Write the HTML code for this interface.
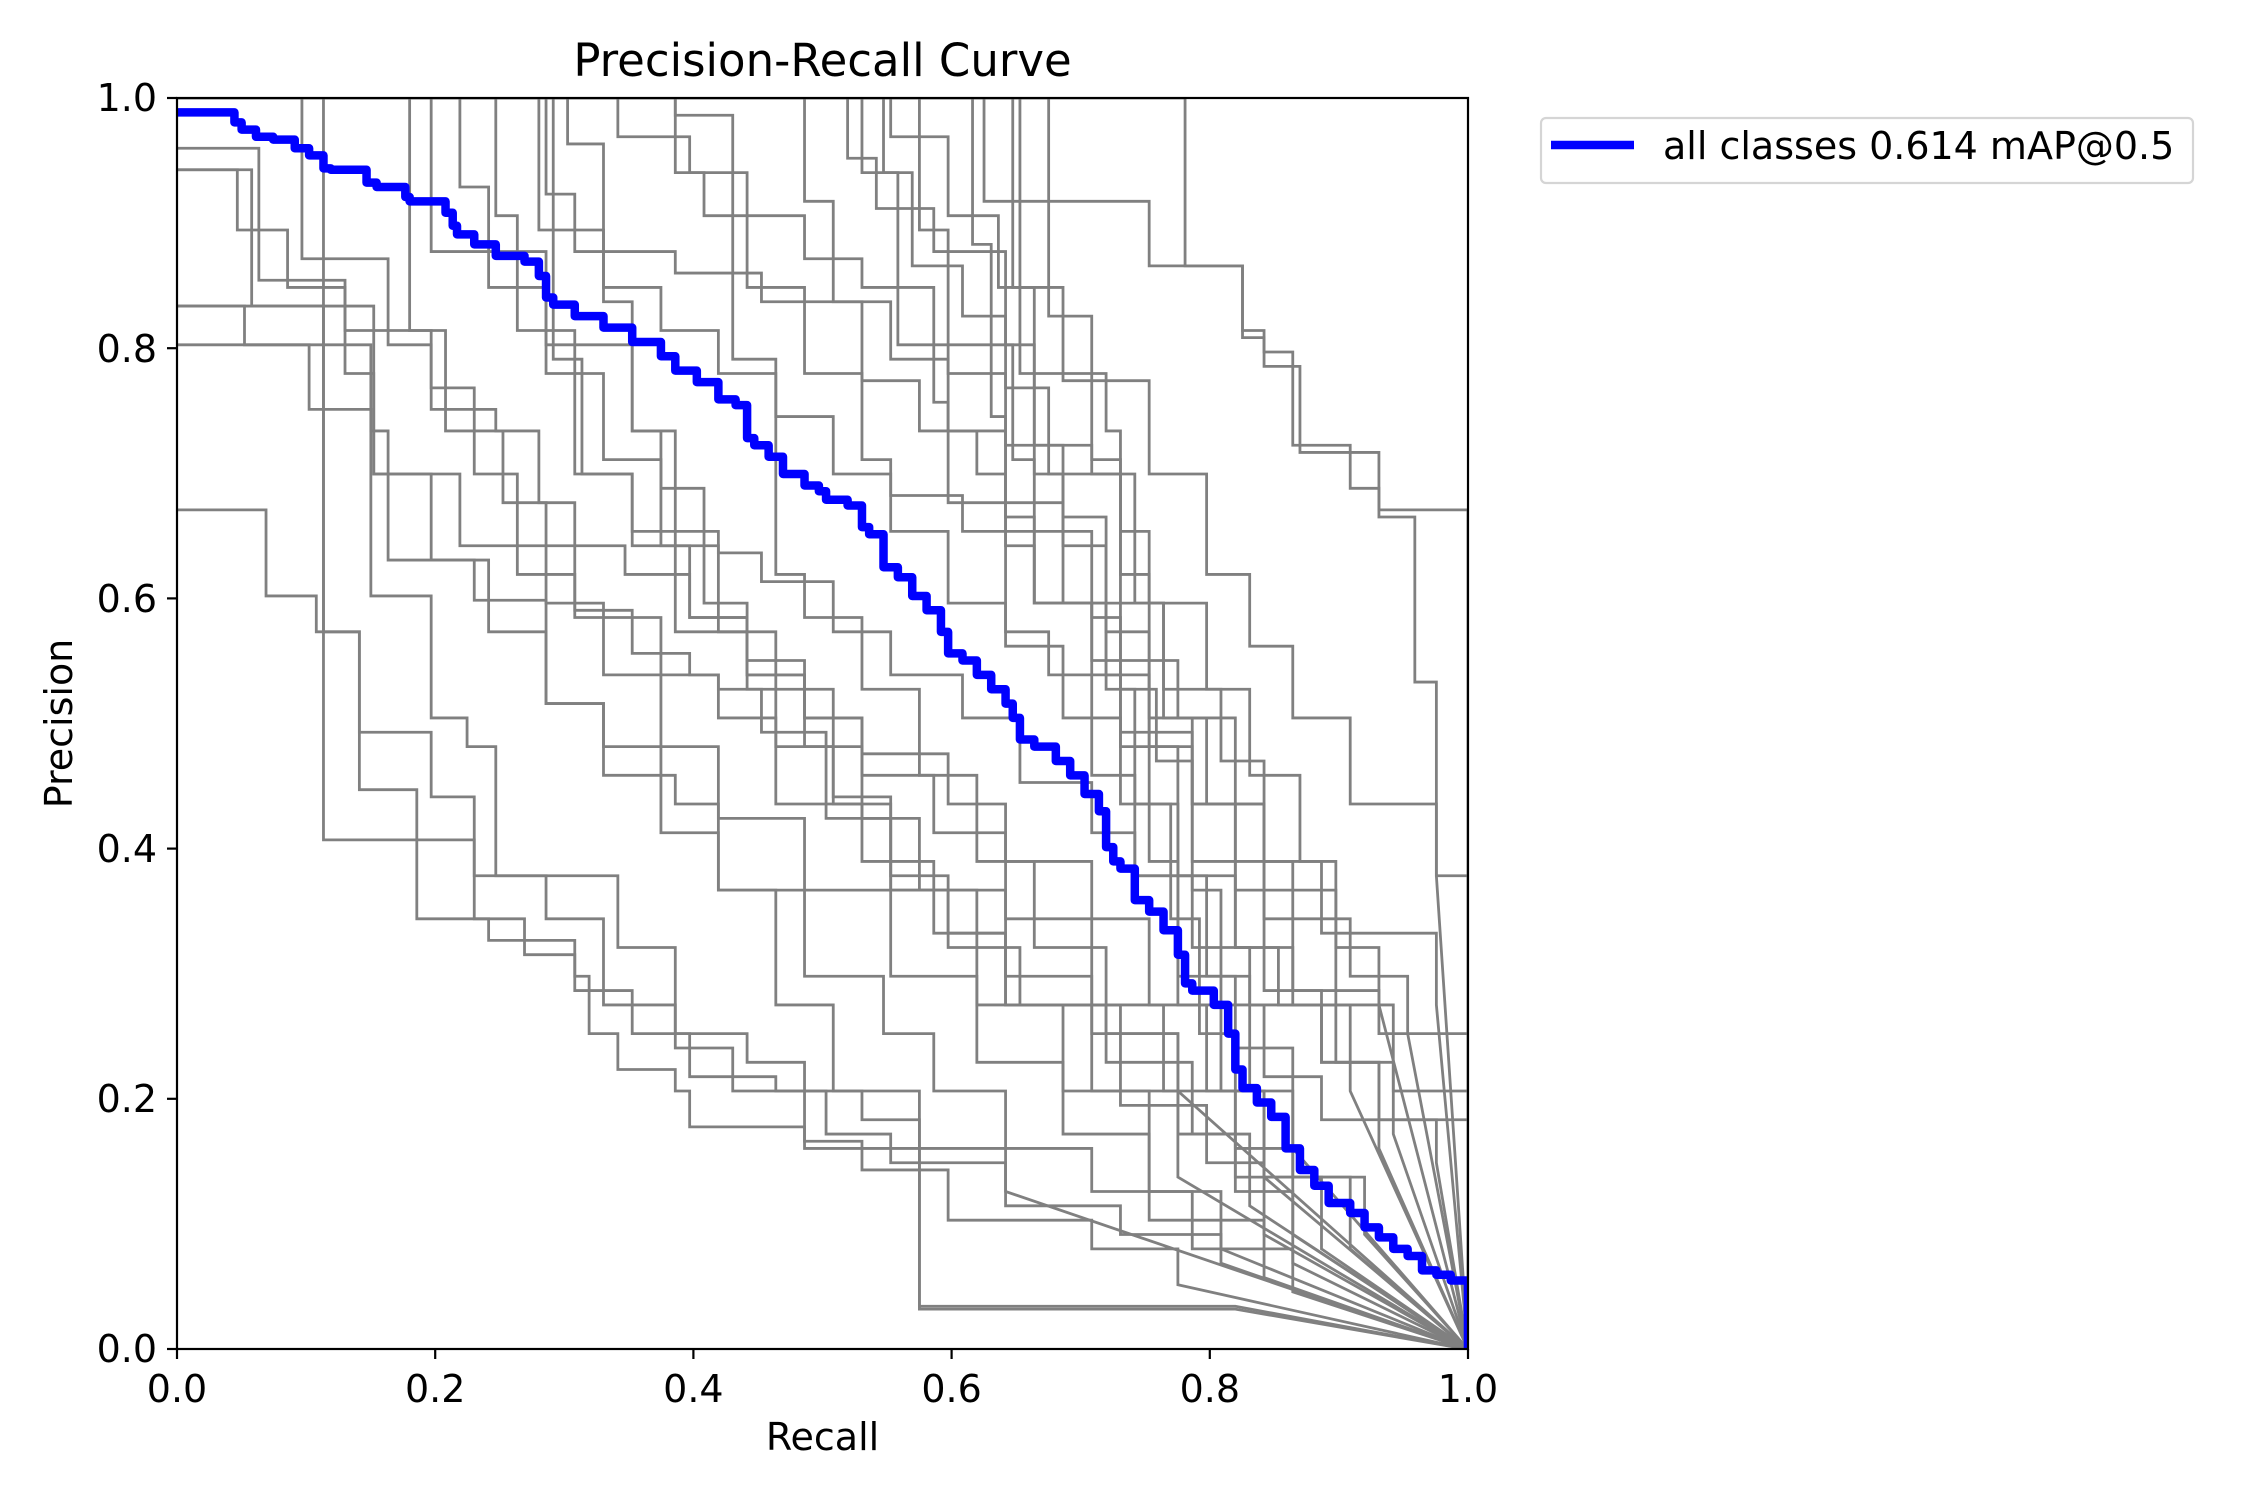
<!DOCTYPE html>
<html><head><meta charset="utf-8"><style>
html,body{margin:0;padding:0;background:#fff;}
svg{display:block;font-family:"DejaVu Sans","Liberation Sans",sans-serif;}
</style></head><body>
<svg width="2250" height="1500" viewBox="0 0 2250 1500" xmlns="http://www.w3.org/2000/svg">
<rect width="2250" height="1500" fill="#fff"/>
<defs><clipPath id="cp"><rect x="177" y="98" width="1291" height="1251"/></clipPath></defs>
<g clip-path="url(#cp)">
<g transform="translate(177 98) scale(1.436 1.435) translate(-123 -68)" fill="none" stroke="#808080" stroke-width="2.8">
<path vector-effect="non-scaling-stroke" d="M123,355 H185 V415 H220 V440 H250 V510 H300 V555 H330 V640 H365 V665 H400 V680 H410 V720 H430 V745 H470 V760 H480 V785 H560 V800 H640 V912 H860 L1022,940"/>
<path vector-effect="non-scaling-stroke" d="M123,213 H170 V240 H215 V285 H258 V415 H300 V500 H325 V520 H345 V610 H430 V660 H470 V720 H520 V740 H560 V795 H600 V815 H660 V850 H760 V870 H820 V895 L1022,940"/>
<path vector-effect="non-scaling-stroke" d="M123,118 H175 V213 H225 V585 H330 V610 H380 V640 H420 V700 H470 V730 H510 V760 H575 V790 H620 V810 H700 V840 H780 V860 H850 V880 L1022,940"/>
<path vector-effect="non-scaling-stroke" d="M123,240 H258 V300 H270 V390 H330 V418 H380 V490 H420 V540 H470 V560 H500 V620 H560 V680 H615 V720 H650 V760 H700 V800 H760 V830 H830 V870 H900 V900 L1022,940"/>
<path vector-effect="non-scaling-stroke" d="M123,213 H260 V330 H320 V380 H360 V400 H400 V425 H440 V455 H480 V470 H500 V500 H540 V520 H580 V555 H620 V610 H660 V650 H700 V700 H780 V770 H840 V810 H880 V860 L1022,940"/>
<path vector-effect="non-scaling-stroke" d="M123,103 H180 V195 H240 V230 H300 V270 H330 V330 H360 V380 H400 V430 H460 V470 H500 V480 H530 V510 H575 V570 H620 V620 H660 V660 H710 V700 H770 V740 H830 V790 H860 V830 H900 V860 L1022,940"/>
<path vector-effect="non-scaling-stroke" d="M123,68 H210 V180 H270 V240 H300 V285 H345 V300 H375 V350 H400 V380 H435 V400 H480 V430 H520 V470 H560 V500 H600 V525 H660 V560 H700 V600 H760 V640 H800 V700 H840 V760 H880 V820 H940 V870 L1022,940"/>
<path vector-effect="non-scaling-stroke" d="M123,68 H300 V175 H380 V240 H440 V300 H470 V370 H500 V385 H530 V405 H580 V440 H620 V470 H670 V500 H710 V545 H760 V580 H790 V610 H830 V660 H870 V700 H920 V740 H960 V780 H1000 V810 L1022,940"/>
<path vector-effect="non-scaling-stroke" d="M123,68 H375 V160 H420 V200 H460 V230 H500 V260 H540 V290 H580 V330 H620 V370 H660 V420 H700 V450 H740 V500 H780 V560 H820 V610 H860 V660 H890 V700 H930 V740 H970 V790 L1022,940"/>
<path vector-effect="non-scaling-stroke" d="M123,68 H380 V135 H400 V175 H470 V190 H530 V210 H600 V265 H640 V300 H680 V330 H700 V380 H720 V420 H760 V470 H800 V520 H830 V560 H860 V600 H900 V640 H940 V680 H980 V720 L1022,940"/>
<path vector-effect="non-scaling-stroke" d="M123,68 H590 V110 H610 V145 H650 V175 H700 V240 H705 V320 H720 V370 H760 V430 H780 V480 H805 V530 H830 V600 H860 V660 H900 V700 H940 V760 L1022,940"/>
<path vector-effect="non-scaling-stroke" d="M123,68 H615 V120 H635 V185 H670 V220 H700 V270 H730 V330 H780 V370 H800 V420 H840 V480 H870 V540 H905 V600 H930 V660 H960 V700 L1022,940"/>
<path vector-effect="non-scaling-stroke" d="M123,68 H685 V140 H800 V185 H865 V235 H880 V255 H905 V315 H960 V355 H1022 V940"/>
<path vector-effect="non-scaling-stroke" d="M123,68 H825 V185 H865 V230 H880 V245 H900 V310 H940 V340 H960 V360 H985 V475 H1000 V610 H1022 V940"/>
<path vector-effect="non-scaling-stroke" d="M123,68 H620 V95 H660 V150 H695 V200 H740 V265 H800 V330 H840 V400 H870 V450 H900 V500 H940 V560 H1000 V610 L1022,940"/>
<path vector-effect="non-scaling-stroke" d="M123,68 H430 V95 H480 V120 H520 V150 H560 V180 H600 V200 H650 V240 H690 V290 H700 V360 H720 V420 H770 V470 H780 V520 H800 V600 H820 V700 H850 V760 H880 V820 L1022,940"/>
<path vector-effect="non-scaling-stroke" d="M123,68 H470 V120 H490 V150 H520 V200 H560 V260 H600 V320 H620 V345 H670 V370 H720 V420 H760 V460 H780 V510 H830 V560 H860 V620 H880 V690 H920 V740 H960 V800 L1022,940"/>
<path vector-effect="non-scaling-stroke" d="M123,68 H225 V440 H250 V550 H290 V640 H340 V655 H400 V690 H440 V720 H480 V750 H540 V760 H600 V780 H640 V910 H860 L1022,940"/>
<path vector-effect="non-scaling-stroke" d="M123,68 H320 V130 H340 V200 H380 V260 H420 V320 H460 V380 H500 V440 H540 V480 H580 V560 H620 V620 H680 V700 H740 V760 H800 V830 H850 V870 L1022,940"/>
<path vector-effect="non-scaling-stroke" d="M123,68 H345 V150 H360 V230 H400 V330 H440 V370 H470 V440 H520 V480 H540 V560 H600 V600 H650 V650 H700 V680 H760 V720 H820 V760 L1022,940"/>
<path vector-effect="non-scaling-stroke" d="M123,68 H395 V100 H420 V210 H440 V300 H460 V340 H490 V420 H520 V470 H560 V520 H600 V570 H640 V620 H700 V700 H760 V760 H820 V820 L1022,940"/>
<path vector-effect="non-scaling-stroke" d="M123,68 H470 V80 H510 V250 H540 V400 H560 V430 H600 V480 H640 V540 H680 V600 H720 V660 H770 V720 H820 V790 H870 V840 L1022,940"/>
<path vector-effect="non-scaling-stroke" d="M123,118 H165 V160 H200 V200 H240 V260 H260 V330 H300 V390 H340 V440 H380 V490 H420 V520 H460 V580 H500 V620 H540 V700 H580 V760 H640 V800 H700 V830 L1022,940"/>
<path vector-effect="non-scaling-stroke" d="M123,68 H705 V200 H720 V310 H760 V320 H780 V460 H820 V500 H860 V560 H880 V640 H900 V690 H960 V720 H1022 V940"/>
<path vector-effect="non-scaling-stroke" d="M123,68 H710 V260 H770 V300 H780 V400 H800 V500 H830 V620 H850 V700 H880 V750 H920 V780 H1022 V940"/>
<path vector-effect="non-scaling-stroke" d="M123,68 H600 V120 H625 V240 H650 V280 H660 V350 H700 V440 H730 V470 H760 V540 H790 V610 H820 V680 H860 V730 H900 V800 L1022,940"/>
<path vector-effect="non-scaling-stroke" d="M123,68 H677 V170 H690 V240 H720 V330 H740 V380 H770 V420 H810 V480 H850 V530 H880 V600 H920 V650 H1000 V700 L1022,940"/>
<path vector-effect="non-scaling-stroke" d="M123,68 H385 V250 H405 V330 H440 V380 H480 V430 H520 V460 H560 V500 H600 V540 H650 V580 H700 V640 H760 V700 H810 V760 H860 V820 H920 V870 L1022,940"/>
<path vector-effect="non-scaling-stroke" d="M123,68 H640 V160 H660 V260 H700 V310 H740 V360 H770 V440 H800 V520 H820 V610 H840 V680 H870 V760 H900 V820 H950 V860 L1022,940"/>
<path vector-effect="non-scaling-stroke" d="M123,68 H560 V140 H580 V210 H620 V250 H660 V300 H700 V350 H740 V420 H770 V480 H790 V560 H815 V640 H835 V720 H860 V800 H900 V880 L1022,940"/>
<path vector-effect="non-scaling-stroke" d="M123,68 H730 V220 H760 V330 H790 V420 H810 V500 H840 V560 H880 V620 H930 V700 H970 V760 H1022 V800 V940"/>
<path vector-effect="non-scaling-stroke" d="M123,68 H285 V230 H310 V300 H350 V350 H380 V420 H420 V470 H460 V520 H500 V570 H560 V620 H620 V680 H680 V740 H740 V790 H800 V850 H880 V890 L1022,940"/>
</g>
<g transform="translate(177 98) scale(1.436 1.435) translate(-123 -68)" fill="none">
<path vector-effect="non-scaling-stroke" stroke="#0000ff" stroke-width="8.5" stroke-linejoin="round" d="M123,78 H163 V85 H168 V90 H178 V95 H190 V97 H205 V103 H215 V108 H225 V117 H230 V118 H255 V127 H262 V130 H282 V137 H285 V140 H310 V148 H315 V157 H318 V163 H330 V170 H345 V178 H365 V182 H375 V192 H380 V207 H385 V212 H400 V220 H420 V228 H440 V238 H460 V248 H470 V258 H485 V266 H500 V278 H512 V282 H520 V305 H525 V310 H535 V318 H545 V330 H560 V338 H570 V342 H575 V348 H590 V352 H600 V367 H605 V372 H615 V395 H625 V402 H635 V415 H645 V425 H655 V440 H660 V455 H670 V460 H680 V470 H690 V480 H700 V490 H705 V500 H710 V515 H720 V520 H735 V530 H745 V540 H755 V553 H765 V565 H770 V590 H775 V600 H780 V605 H790 V627 H800 V635 H810 V648 H820 V665 H825 V685 H830 V690 H845 V700 H855 V720 H860 V745 H865 V758 H875 V768 H885 V778 H895 V800 H905 V815 H915 V826 H925 V838 H940 V845 H950 V855 H960 V862 H970 V870 H980 V875 H990 V885 H1000 V888 H1010 V892 H1022 V940"/>
</g>
</g>
<rect x="177" y="98" width="1291" height="1251" fill="none" stroke="#000" stroke-width="2.2"/>
<g stroke="#000" stroke-width="2.2">
<line x1="177" y1="1349" x2="177" y2="1359"/><line x1="435.2" y1="1349" x2="435.2" y2="1359"/><line x1="693.4" y1="1349" x2="693.4" y2="1359"/><line x1="951.6" y1="1349" x2="951.6" y2="1359"/><line x1="1209.8" y1="1349" x2="1209.8" y2="1359"/><line x1="1468" y1="1349" x2="1468" y2="1359"/>
<line x1="167" y1="1349" x2="177" y2="1349"/><line x1="167" y1="1098.8" x2="177" y2="1098.8"/><line x1="167" y1="848.6" x2="177" y2="848.6"/><line x1="167" y1="598.4" x2="177" y2="598.4"/><line x1="167" y1="348.2" x2="177" y2="348.2"/><line x1="167" y1="98" x2="177" y2="98"/>
</g>
<g font-size="38" fill="#000" text-anchor="middle">
<text x="177" y="1402">0.0</text><text x="435.2" y="1402">0.2</text><text x="693.4" y="1402">0.4</text><text x="951.6" y="1402">0.6</text><text x="1209.8" y="1402">0.8</text><text x="1468" y="1402">1.0</text>
</g>
<g font-size="38" fill="#000" text-anchor="end">
<text x="157" y="1362">0.0</text><text x="157" y="1112">0.2</text><text x="157" y="862">0.4</text><text x="157" y="612">0.6</text><text x="157" y="362">0.8</text><text x="157" y="111">1.0</text>
</g>
<text x="822.5" y="1450" font-size="38" text-anchor="middle">Recall</text>
<text transform="translate(72 723.5) rotate(-90)" font-size="38" text-anchor="middle">Precision</text>
<text x="822.5" y="76" font-size="45" text-anchor="middle">Precision-Recall Curve</text>
<rect x="1541" y="118" width="652" height="65" rx="5" fill="#fff" stroke="#d5d5d5" stroke-width="2.2"/>
<line x1="1551" y1="145" x2="1634" y2="145" stroke="#0000ff" stroke-width="8.5"/>
<text x="1663" y="159" font-size="38">all classes 0.614 mAP@0.5</text>
</svg>
</body></html>
